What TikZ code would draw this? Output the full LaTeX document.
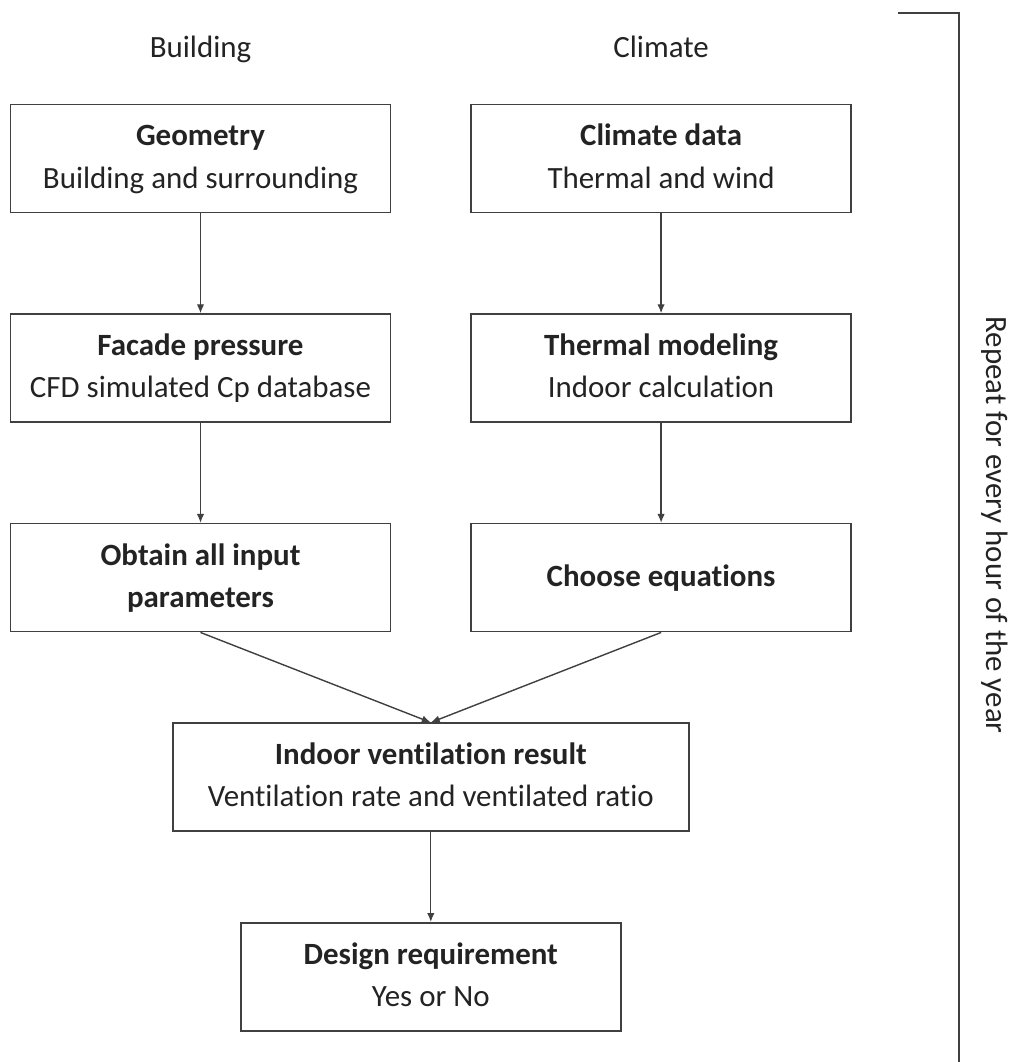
\documentclass[tikz,border=0pt]{standalone}
\usepackage{fontspec}
\setmainfont{Carlito}[Ligatures=NoCommon]
\usetikzlibrary{arrows.meta,positioning,calc}
\definecolor{LineGray}{RGB}{64,64,64}
\definecolor{TextGray}{RGB}{35,35,35}
\tikzset{
  flowbox/.style={draw=LineGray, line width=0.9pt, minimum width=7.6cm,
    minimum height=2.16cm, align=center, inner sep=0pt, text=TextGray,
    font=\fontsize{17.6}{24}\selectfont},
  widebox/.style={flowbox, minimum width=10.32cm},
  header/.style={text=TextGray, font=\fontsize{17.6}{20}\selectfont},
  arrow/.style={-{Latex[length=1.8mm,width=1.5mm]}, line width=0.8pt, LineGray},
  bracket/.style={line width=1pt, LineGray}
}

\begin{document}
\begin{tikzpicture}[node distance=2cm and 1.58cm]
  \useasboundingbox (0,0) rectangle (20.5,-21.24);

  \node[flowbox] (geometry) at (4.01,-3.17) {
    \textbf{Geometry}\strut\\
    Building and surrounding\strut
  };

  \node[flowbox, right=of geometry] (climate) {
    \textbf{Climate data}\strut\\
    Thermal and wind\strut
  };

  \node[header, above=0.92cm of geometry, anchor=base] (building) {Building};
  \node[header, above=0.92cm of climate, anchor=base] (climatehead) {Climate};

  \node[flowbox, below=of geometry] (facade) {
    \textbf{Facade pressure}\strut\\
    CFD simulated Cp database\strut
  };

  \node[flowbox, below=of climate] (thermal) {
    \textbf{Thermal modeling}\strut\\
    Indoor calculation\strut
  };

  \node[flowbox, below=of facade] (inputs) {
    \textbf{Obtain all input}\strut\\
    \textbf{parameters}\strut
  };

  \node[flowbox, below=of thermal] (equations) {\textbf{Choose equations}\strut};

  \coordinate (merge) at ($(inputs.south)!0.5!(equations.south)$);

  \node[widebox, below=1.8cm of merge] (result) {
    \textbf{Indoor ventilation result}\strut\\
    Ventilation rate and ventilated ratio\strut
  };

  \node[flowbox, below=1.8cm of result] (design) {
    \textbf{Design requirement}\strut\\
    Yes or No\strut
  };

  \draw[arrow] (geometry) -- (facade);
  \draw[arrow] (climate) -- (thermal);
  \draw[arrow] (facade) -- (inputs);
  \draw[arrow] (thermal) -- (equations);
  \draw[arrow] (inputs.south) -- (result.north);
  \draw[arrow] (equations.south) -- (result.north);
  \draw[arrow] (result) -- (design);

  % bracket on the right
  \coordinate (repeattop) at (17.96,-0.26);
  \coordinate (repeatcorner) at (19.18,-0.26);
  \coordinate (repeatend) at (19.18,-21.24);
  \draw[bracket] (repeattop) -- (repeatcorner) -- (repeatend);
  \node[header, rotate=-90] (repeat) at (19.9,-10.5) {Repeat for every hour of the year};
\end{tikzpicture}
\end{document}
